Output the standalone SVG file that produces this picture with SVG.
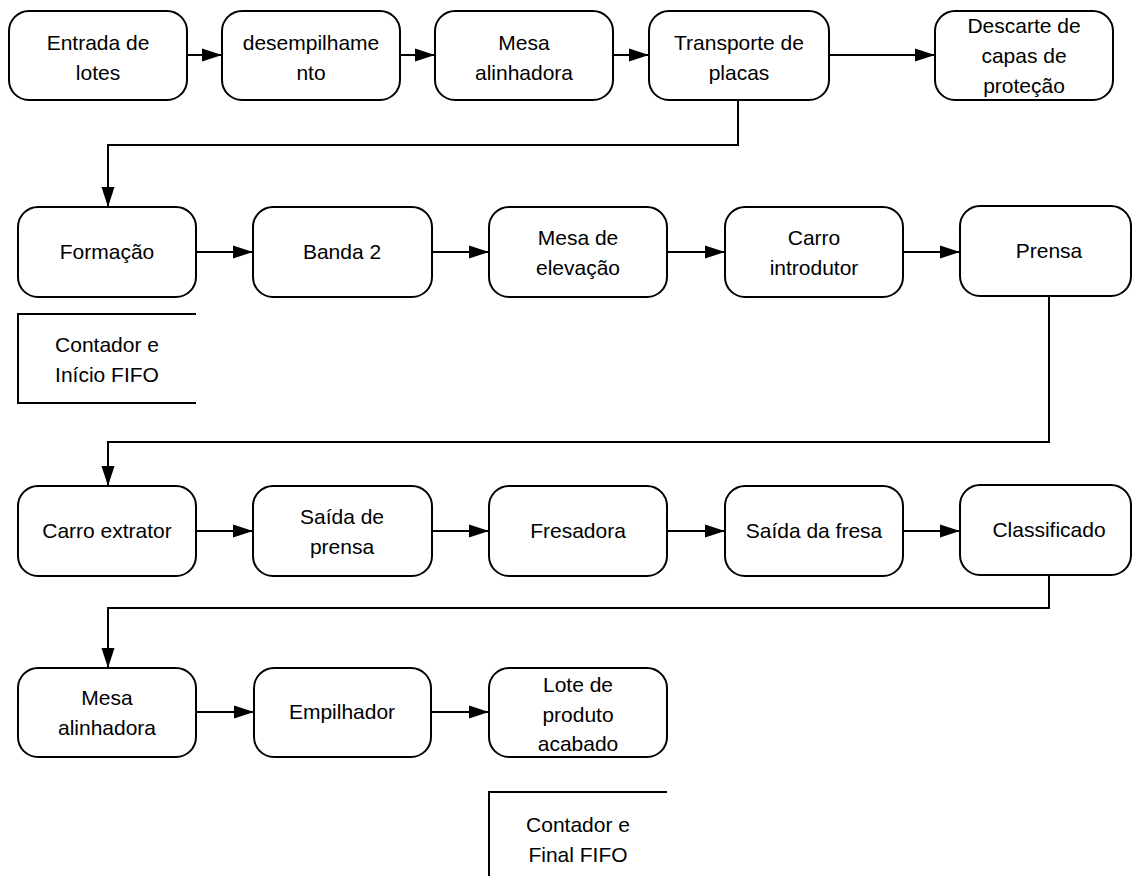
<svg xmlns="http://www.w3.org/2000/svg" width="1132" height="876" viewBox="0 0 1132 876">
<style>
.n rect{fill:#fff;stroke:#000;stroke-width:2}
text{font-family:"Liberation Sans",Arial,sans-serif;font-size:21px;fill:#000;text-anchor:middle}
.c path{fill:none;stroke:#000;stroke-width:2}
.b{fill:none;stroke:#000;stroke-width:2}
</style>
<defs>
<marker id="a" markerUnits="userSpaceOnUse" markerWidth="20" markerHeight="14" refX="20" refY="7" orient="auto">
<path d="M0,0.5 L20,7 L0,13.5 z" fill="#000"/>
</marker>
</defs>
<rect width="1132" height="876" fill="#fff"/>
<g class="c">
<path d="M187,55 H222" marker-end="url(#a)"/>
<path d="M400,55 H435" marker-end="url(#a)"/>
<path d="M613,55 H649" marker-end="url(#a)"/>
<path d="M829,55 H935" marker-end="url(#a)"/>
<path d="M738,100 V145 H108 V207" marker-end="url(#a)"/>
<path d="M196,252 H253" marker-end="url(#a)"/>
<path d="M432,252 H489" marker-end="url(#a)"/>
<path d="M667,252 H725" marker-end="url(#a)"/>
<path d="M903,252 H960" marker-end="url(#a)"/>
<path d="M1049,296 V442 H108 V486" marker-end="url(#a)"/>
<path d="M196,531 H253" marker-end="url(#a)"/>
<path d="M432,531 H489" marker-end="url(#a)"/>
<path d="M667,531 H725" marker-end="url(#a)"/>
<path d="M903,531 H960" marker-end="url(#a)"/>
<path d="M1049,575 V608 H108 V668" marker-end="url(#a)"/>
<path d="M196,712 H254" marker-end="url(#a)"/>
<path d="M431,712 H489" marker-end="url(#a)"/>
</g>
<g id="n1" class="n"><rect x="9" y="11" width="178" height="89" rx="20"/><text x="98" y="50">Entrada de</text><text x="98" y="80">lotes</text></g>
<g id="n2" class="n"><rect x="222" y="11" width="178" height="89" rx="20"/><text x="311" y="50">desempilhame</text><text x="311" y="80">nto</text></g>
<g id="n3" class="n"><rect x="435" y="11" width="178" height="89" rx="20"/><text x="524" y="50">Mesa</text><text x="524" y="80">alinhadora</text></g>
<g id="n4" class="n"><rect x="649" y="11" width="180" height="89" rx="20"/><text x="739" y="50">Transporte de</text><text x="739" y="80">placas</text></g>
<g id="n5" class="n"><rect x="935" y="11" width="178" height="89" rx="20"/><text x="1024" y="33">Descarte de</text><text x="1024" y="63">capas de</text><text x="1024" y="93">proteção</text></g>
<g id="n6" class="n"><rect x="18" y="207" width="178" height="90" rx="20"/><text x="107" y="259">Formação</text></g>
<g id="n7" class="n"><rect x="253" y="207" width="179" height="90" rx="20"/><text x="342" y="259">Banda 2</text></g>
<g id="n8" class="n"><rect x="489" y="207" width="178" height="90" rx="20"/><text x="578" y="245">Mesa de</text><text x="578" y="275">elevação</text></g>
<g id="n9" class="n"><rect x="725" y="207" width="178" height="90" rx="20"/><text x="814" y="245">Carro</text><text x="814" y="275">introdutor</text></g>
<g id="n10" class="n"><rect x="960" y="206" width="171" height="90" rx="20"/><text x="1049" y="258">Prensa</text></g>
<g id="n11" class="n"><rect x="18" y="486" width="178" height="90" rx="20"/><text x="107" y="538">Carro extrator</text></g>
<g id="n12" class="n"><rect x="253" y="486" width="179" height="90" rx="20"/><text x="342" y="524">Saída de</text><text x="342" y="554">prensa</text></g>
<g id="n13" class="n"><rect x="489" y="486" width="178" height="90" rx="20"/><text x="578" y="538">Fresadora</text></g>
<g id="n14" class="n"><rect x="725" y="486" width="178" height="90" rx="20"/><text x="814" y="538">Saída da fresa</text></g>
<g id="n15" class="n"><rect x="960" y="485" width="171" height="90" rx="20"/><text x="1049" y="537">Classificado</text></g>
<g id="n16" class="n"><rect x="18" y="668" width="178" height="89" rx="20"/><text x="107" y="705">Mesa</text><text x="107" y="735">alinhadora</text></g>
<g id="n17" class="n"><rect x="254" y="668" width="177" height="89" rx="20"/><text x="342" y="719">Empilhador</text></g>
<g id="n18" class="n"><rect x="489" y="668" width="178" height="89" rx="20"/><text x="578" y="692">Lote de</text><text x="578" y="722">produto</text><text x="578" y="751">acabado</text></g>
<g id="ann1"><path class="b" d="M196,314 H18 V403 H196"/><text x="107" y="352">Contador e</text><text x="107" y="382">Início FIFO</text></g>
<g id="ann2"><path class="b" d="M667,792 H489 V880"/><text x="578" y="832">Contador e</text><text x="578" y="862">Final FIFO</text></g>
</svg>
